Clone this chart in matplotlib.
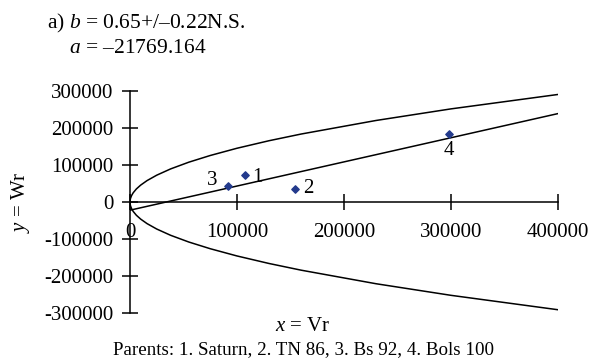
import matplotlib.pyplot as plt

plt.rcParams['font.family'] = ['Liberation Serif', 'DejaVu Serif']
plt.rcParams['mathtext.fontset'] = 'custom'
plt.rcParams['mathtext.rm'] = 'Liberation Serif'
plt.rcParams['mathtext.it'] = 'Liberation Serif:italic'

# parents (Vr, Wr)
labels = ['1', '2', '3', '4']
vr = [107500, 153900, 91600, 298400]
wr = [72600, 35700, 43000, 182800]

# regression coefficients from the chart text
a = -21769.164
b = 0.65
line_x = [0, 400000]

# limiting parabola
curve_x = [0, 100, 500, 1500, 3000, 6000, 10000, 16000, 25000, 38000, 55000,
           75000, 100000, 130000, 160000, 230000, 300000, 400000]
curve_up = [0, 4600, 10200, 17700, 25100, 35500, 45800, 58000, 72500, 89400, 107500,
            125500, 145000, 165300, 183300, 219800, 251000, 289800]
curve_lo = [-v for v in curve_up]

xticks = [0, 100000, 200000, 300000, 400000]
yticks = [-300000, -200000, -100000, 0, 100000, 200000, 300000]

fig = plt.figure(figsize=(5.93, 3.62), dpi=100)
ax = fig.add_axes([0.2192, 0.134, 0.7213, 0.6154])

ax.plot(curve_x, curve_up, color='black', lw=1.1)
ax.plot(curve_x, curve_lo, color='black', lw=1.1)
ax.plot(line_x, [a + b * x for x in line_x], color='black', lw=1.1)
ax.scatter(vr, wr, marker='D', s=14, color='#233a8c', zorder=3)

offsets = {'1': (9, -2), '2': (10, 0), '3': (-11, 4), '4': (0, -12)}
for lab, x, y in zip(labels, vr, wr):
    ax.annotate(lab, (x, y), xytext=offsets[lab], textcoords='offset points',
                ha='center', va='center', fontsize=15)

ax.set_xlim(0, 400000)
ax.set_ylim(-300000, 300000)
ax.set_xticks(xticks)
ax.set_yticks(yticks)
ax.set_xticklabels([str(t) for t in xticks])
ax.set_yticklabels([str(t) for t in yticks])
ax.spines['top'].set_visible(False)
ax.spines['right'].set_visible(False)
ax.spines['bottom'].set_position(('data', 0))
ax.spines['left'].set_linewidth(1.1)
ax.spines['bottom'].set_linewidth(1.1)
ax.tick_params(direction='inout', length=12, width=1.1, labelsize=15)
ax.tick_params(axis='y', pad=6)
ax.tick_params(axis='x', pad=9)

fig.text(0.034, 0.442, r'$y$ = Wr', rotation=90, ha='center', va='center', fontsize=15)
fig.text(0.51, 0.099, r'$x$ = Vr', ha='center', va='center', fontsize=15)
fig.text(0.511, 0.033, 'Parents: 1. Saturn, 2. TN 86, 3. Bs 92, 4. Bols 100',
         ha='center', va='center', fontsize=13.7)
fig.text(0.079, 0.934, r'a) $b$ = 0.65+/–0.22N.S.', ha='left', va='center', fontsize=15.5)
fig.text(0.117, 0.865, r'$a$ = –21769.164', ha='left', va='center', fontsize=15.5)

fig.savefig('out.png', dpi=100)
